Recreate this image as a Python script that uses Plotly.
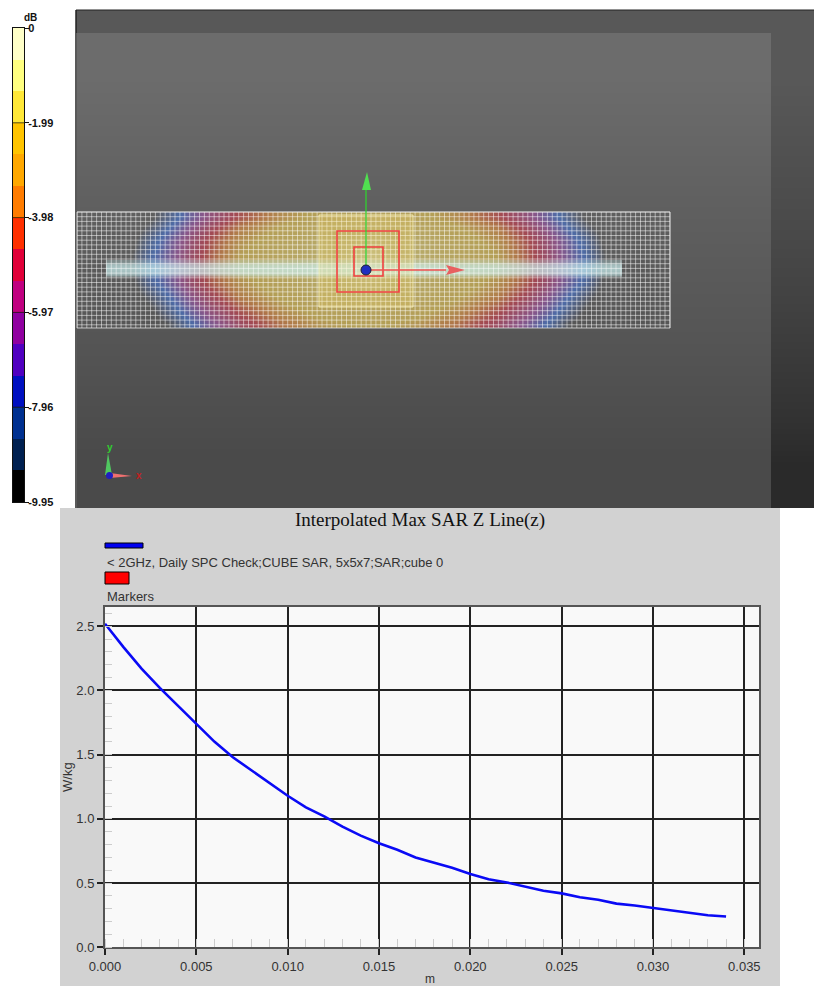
import numpy as np
import plotly.graph_objects as go

W, H = 814, 986

# ---------- line chart data ----------
distance_m = [i / 1000 for i in range(35)]
sar_wkg = [2.52, 2.34, 2.17, 2.02, 1.88, 1.74, 1.60, 1.48, 1.38, 1.28, 1.18, 1.09,
           1.02, 0.94, 0.87, 0.81, 0.76, 0.70, 0.66, 0.62, 0.57, 0.53, 0.505, 0.47,
           0.44, 0.42, 0.39, 0.37, 0.34, 0.325, 0.305, 0.29, 0.27, 0.25, 0.24]
x_ticks = [0, 0.005, 0.010, 0.015, 0.020, 0.025, 0.030, 0.035]
y_ticks = [0, 0.5, 1.0, 1.5, 2.0, 2.5]
chart_title = "Interpolated Max SAR Z Line(z)"
legend_line = "< 2GHz, Daily SPC Check;CUBE SAR, 5x5x7;SAR;cube 0"
legend_markers = "Markers"

# ---------- colour bar data ----------
db_ticks = [0, -1.99, -3.98, -5.97, -7.96, -9.95]
db_labels = ["0", "-1.99", "-3.98", "-5.97", "-7.96", "-9.95"]
band_colors = ["#FFFFC8", "#FFFF80", "#FFE838", "#FFC400", "#FFA800", "#FF7C00", "#FF3000",
               "#E00038", "#C00080", "#9000A0", "#5000C0", "#0010C0", "#003090", "#002050", "#000000"]

# ---------- SAR field (dB), left half, mirrored in code ----------
field_x_left = [77, 110, 130, 150, 170, 190, 210, 240, 280, 320, 368]
field_y_edges = [212, 222, 234, 248, 262, 276, 290, 304, 318, 328]
field_db_left = [
    [-10, -10, -10, -9.6, -8.4, -7.1, -6.0, -4.8, -3.8, -3.1, -2.6],
    [-10, -10, -10, -9.0, -7.7, -6.4, -5.3, -4.1, -3.3, -2.5, -2.0],
    [-10, -10, -9.8, -8.3, -7.0, -5.8, -4.8, -3.7, -2.9, -2.0, -1.3],
    [-10, -10, -9.5, -8.0, -6.8, -5.6, -4.6, -3.4, -2.6, -1.7, -0.8],
    [-10, -10, -9.5, -8.0, -6.8, -5.6, -4.6, -3.4, -2.6, -1.6, -0.7],
    [-10, -10, -9.8, -8.2, -7.0, -5.7, -4.7, -3.7, -2.9, -2.0, -1.4],
    [-10, -10, -10, -9.0, -7.7, -6.4, -5.3, -4.1, -3.3, -2.5, -2.1],
    [-10, -10, -10, -9.6, -8.4, -7.1, -6.0, -4.8, -3.8, -3.1, -2.7],
    [-10, -10, -10, -10, -9.2, -7.9, -6.7, -5.4, -4.3, -3.6, -3.2],
]
field_x = field_x_left + [2 * 368 - v for v in field_x_left[-2::-1]]
field_db = [r + r[-2::-1] for r in field_db_left]

# background grey levels
bg_y = [33, 120, 200, 300, 400, 508]
bg_grey = [108, 100, 92, 84, 74]
side_y = [10, 150, 300, 420, 508]
side_grey = [88, 74, 58, 42]


def dom_x(a, b):
    return [a / W, b / W]


def dom_y(top, bottom):
    return [1 - bottom / H, 1 - top / H]


fig = go.Figure()

grey_scale = [[0, "rgb(0,0,0)"], [1, "rgb(255,255,255)"]]


def grey_edges(values):
    return [[v, v] for v in values]


# top strip, side strip, main backdrop
fig.add_trace(go.Heatmap(x=[76, 400, 814], y=[10, 33], z=[[88, 88]], zmin=0, zmax=255,
                         colorscale=grey_scale, showscale=False, hoverinfo="skip",
                         xaxis="x2", yaxis="y2"))
fig.add_trace(go.Heatmap(x=[771, 790, 814], y=side_y, z=grey_edges(side_grey), zmin=0, zmax=255,
                         colorscale=grey_scale, showscale=False, zsmooth="best", hoverinfo="skip",
                         xaxis="x2", yaxis="y2"))
fig.add_trace(go.Heatmap(x=[77, 400, 771], y=bg_y, z=grey_edges(bg_grey), zmin=0, zmax=255,
                         colorscale=grey_scale, showscale=False, zsmooth="best", hoverinfo="skip",
                         xaxis="x2", yaxis="y2"))

# SAR field
field_scale = [
    [0.00, "rgba(80,110,180,0)"],
    [0.06, "rgba(80,110,180,0)"],
    [0.22, "rgba(75,110,180,0.85)"],
    [0.36, "rgba(145,85,145,0.85)"],
    [0.50, "rgba(175,70,80,0.85)"],
    [0.58, "rgba(190,125,70,0.85)"],
    [0.66, "rgba(195,170,85,0.85)"],
    [0.85, "rgba(200,185,110,0.85)"],
    [1.00, "rgba(215,215,165,0.85)"],
]
fig.add_trace(go.Heatmap(x=field_x, y=field_y_edges, z=field_db, zmin=-10, zmax=0, colorscale=field_scale,
                         zsmooth="best", showscale=False, hoverinfo="skip", xaxis="x2", yaxis="y2"))

# pale strip along the centre line
strip_scale = [[0, "rgba(200,238,238,0)"], [1, "rgba(200,238,238,0.72)"]]
fig.add_trace(go.Heatmap(x=[106, 364, 622], y=[260, 263, 266, 272, 275, 277],
                         z=[[0.45, 0.45], [0.9, 0.9], [1, 1], [0.9, 0.9], [0.45, 0.45]], zmin=0, zmax=1,
                         colorscale=strip_scale, zsmooth="best", showscale=False, hoverinfo="skip",
                         xaxis="x2", yaxis="y2"))

# measurement grid
gx, gy = [], []
for v in np.arange(77, 670.5, 4.9):
    gx += [float(v), float(v), None]
    gy += [212, 328, None]
for v in np.arange(212, 328.5, 4.7):
    gx += [77, 670, None]
    gy += [float(v), float(v), None]
fig.add_trace(go.Scatter(x=gx, y=gy, mode="lines", line=dict(color="rgba(255,255,255,0.5)", width=1),
                         hoverinfo="skip", showlegend=False, xaxis="x2", yaxis="y2"))

# colour bar
band_count = len(band_colors)
band_edges = [db_ticks[-1] * i / band_count for i in range(band_count + 1)]
fig.add_trace(go.Heatmap(x=[0, 0.5, 1], y=band_edges[::-1], z=[[i, i] for i in range(band_count)],
                         zmin=0, zmax=band_count - 1,
                         colorscale=[[i / (band_count - 1), c] for i, c in enumerate(reversed(band_colors))],
                         showscale=False, hoverinfo="skip", xaxis="x3", yaxis="y3"))
mx, my = [], []
for v in db_ticks[1:-1]:
    mx += [0, 1, None]
    my += [v, v, None]
fig.add_trace(go.Scatter(x=mx, y=my, mode="lines", line=dict(color="rgba(30,20,0,0.75)", width=1),
                         hoverinfo="skip", showlegend=False, xaxis="x3", yaxis="y3"))

# SAR line
fig.add_trace(go.Scatter(x=distance_m, y=sar_wkg, mode="lines", line=dict(color="#0A0AF5", width=2.6),
                         hoverinfo="skip", showlegend=False, xaxis="x", yaxis="y"))


def rect(x0, y0, x1, y1, line=None, width=1, fill="rgba(0,0,0,0)", layer="above"):
    return dict(type="rect", xref="x2", yref="y2", x0=x0, y0=y0, x1=x1, y1=y1, fillcolor=fill,
                line=dict(color=line or "rgba(0,0,0,0)", width=width if line else 0), layer=layer)


def path(d, fill, line="rgba(0,0,0,0)", width=0):
    return dict(type="path", xref="x2", yref="y2", path=d, fillcolor=fill,
                line=dict(color=line, width=width), layer="above")


def seg(x0, y0, x1, y1, color, width):
    return dict(type="line", xref="x2", yref="y2", x0=x0, y0=y0, x1=x1, y1=y1,
                line=dict(color=color, width=width), layer="above")


def paper_rect(x0, y0, x1, y1, fill):
    return dict(type="rect", xref="paper", yref="paper", x0=x0 / W, x1=x1 / W,
                y0=1 - y1 / H, y1=1 - y0 / H, fillcolor=fill, line=dict(width=0), layer="below")


shapes = [
    paper_rect(60, 508, 780, 986, "#D2D2D2"),
    paper_rect(105, 607, 759, 947, "#F9F9F9"),
    # scene frame
    seg(76, 10, 814, 10, "#222222", 1),
    seg(76, 10, 76, 508, "#222222", 1.5),
    # grid outline and inner zoom volume
    rect(77, 212, 670, 328, line="rgba(235,235,235,0.75)", width=1),
    rect(319, 215, 413, 307, line="rgba(255,250,200,0.75)", width=1, fill="rgba(255,225,110,0.20)"),
    rect(337, 231, 399, 292, line="#F04040", width=1.6),
    rect(354, 247, 383, 276, line="#F04040", width=1.6),
    # centre arrows
    seg(366, 270, 366, 186, "#30D030", 1.3),
    path("M 367 172 L 362 190 L 371 190 Z", "#50E050"),
    seg(366, 270, 446, 270, "#F05050", 1.3),
    path("M 465 270 L 446 265 L 449 270 L 446 275 Z", "#E86060"),
    dict(type="circle", xref="x2", yref="y2", x0=361, x1=371, y0=265, y1=275, fillcolor="#2030C0",
         line=dict(color="#202030", width=1), layer="above"),
    # small triad
    path("M 108 453 L 105 475 L 112 475 Z", "#50C860"),
    path("M 132 476 L 110 473 L 110 478 Z", "#F07070"),
    dict(type="circle", xref="x2", yref="y2", x0=106, x1=113, y0=472, y1=479, fillcolor="#2020C0",
         line=dict(width=0), layer="above"),
    # legend swatches
    rect(105, 543, 143, 548, line="#000000", width=1, fill="#0000F0"),
    rect(105, 572, 129, 584, line="#000000", width=1, fill="#FF0000"),
]


def note(x, y, text, size=12, color="#333333", family="Liberation Sans", anchor="left", angle=0, weight=None):
    f = dict(size=size, color=color, family=family)
    if weight:
        f["weight"] = weight
    return dict(xref="x2", yref="y2", x=x, y=y, text=text, showarrow=False, xanchor=anchor,
                yanchor="middle", textangle=angle, font=f)


annotations = [
    note(420, 520, chart_title, size=19, color="#111111", family="Liberation Serif", anchor="center"),
    note(105, 562, legend_line, size=13),
    note(105, 596, legend_markers, size=13),
    note(67, 777, "W/kg", size=13, anchor="center", angle=-90),
    note(430, 979, "m", size=12, anchor="center"),
    note(30, 17, "dB", size=10, color="#111111", anchor="center", weight=700),
    note(110, 447, "y", size=10, color="#30D030", anchor="center", weight=700),
    note(139, 475, "x", size=10, color="#C02020", anchor="center", weight=700),
]

fig.update_layout(
    width=W, height=H, margin=dict(l=0, r=0, t=0, b=0), autosize=False,
    paper_bgcolor="#FFFFFF", plot_bgcolor="rgba(0,0,0,0)", showlegend=False,
    shapes=shapes, annotations=annotations,
    xaxis=dict(domain=dom_x(105, 759.3), range=[0, 0.03582], tickvals=x_ticks, tickformat=".3f",
               automargin=False,
               ticks="outside", ticklen=6, tickwidth=1.5, tickcolor="#222222",
               showgrid=True, gridcolor="#222222", gridwidth=1.6, zeroline=False,
               showline=True, linecolor="#555555", linewidth=2, mirror=True,
               tickfont=dict(family="Liberation Sans", size=13, color="#333333"),
               minor=dict(dtick=0.001, tick0=0, ticks="inside", ticklen=8, tickcolor="#CCCCCC",
                          tickwidth=1, showgrid=False),
               anchor="y"),
    yaxis=dict(domain=dom_y(607, 947.3), range=[0, 2.65], tickvals=y_ticks, tickformat=".1f",
               automargin=False,
               ticks="outside", ticklen=6, tickwidth=1.5, tickcolor="#222222",
               showgrid=True, gridcolor="#222222", gridwidth=1.6, zeroline=False,
               showline=True, linecolor="#555555", linewidth=2, mirror=True,
               tickfont=dict(family="Liberation Sans", size=13, color="#333333"),
               minor=dict(dtick=0.1, tick0=0, ticks="inside", ticklen=7, tickcolor="#CCCCCC",
                          tickwidth=1, showgrid=False),
               anchor="x"),
    xaxis2=dict(domain=[0, 1], range=[0, W], visible=False, fixedrange=True, anchor="y2", automargin=False),
    yaxis2=dict(domain=[0, 1], range=[H, 0], visible=False, fixedrange=True, anchor="x2", automargin=False),
    xaxis3=dict(domain=dom_x(13, 24), range=[0, 1], showticklabels=False, ticks="", showgrid=False,
                automargin=False,
                zeroline=False, showline=True, linecolor="#111111", linewidth=1, mirror=True, anchor="y3"),
    yaxis3=dict(domain=dom_y(28, 502), range=[-9.95, 0], tickvals=db_ticks, ticktext=db_labels,
                automargin=False,
                side="right", ticks="outside", ticklen=4, tickcolor="#111111", showgrid=False,
                zeroline=False, showline=True, linecolor="#111111", linewidth=1, mirror=True,
                ticklabelstandoff=-3,
                tickfont=dict(family="Liberation Sans Narrow, Liberation Sans", size=11, color="#111111", weight=700),
                anchor="x3"),
)

fig.write_html("out.html", config={"displayModeBar": False},
               post_script="document.body.style.margin='0';document.body.style.overflow='hidden';")
